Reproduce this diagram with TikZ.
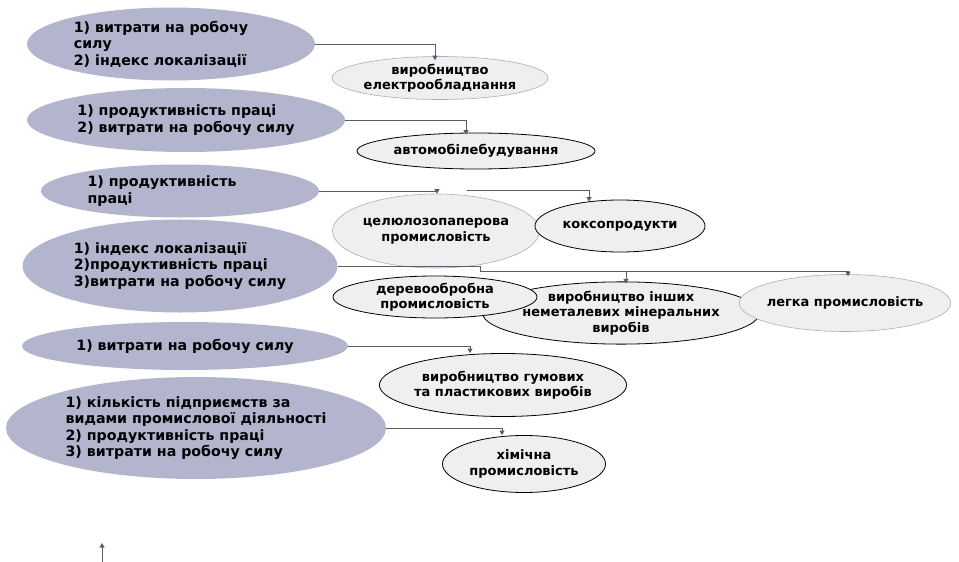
\documentclass[tikz,border=0pt]{standalone}
\usepackage{fontspec}
\setmainfont{DejaVu Sans}
\usetikzlibrary{arrows.meta,shapes.geometric}
\definecolor{factorFill}{RGB}{179,181,206}
\definecolor{galuzFill}{RGB}{239,239,239}
\definecolor{lavLine}{RGB}{170,172,205}
\definecolor{arrLine}{RGB}{90,91,110}

\begin{document}
\begin{tikzpicture}[x=1pt,y=-1pt,
  factor/.style={ellipse,fill=factorFill,inner sep=0pt,align=left,font=\bfseries\fontsize{14.2}{16.5}\selectfont},
  galuz/.style={ellipse,draw=black,line width=0.8pt,fill=galuzFill,inner sep=0pt,align=center,font=\bfseries\fontsize{13}{15.5}\selectfont},
  galuzL/.style={galuz,draw=lavLine,line width=0.6pt},
  arr/.style={draw=arrLine,line width=0.9pt,-{Triangle[length=4.5pt,width=5pt]}}]
\useasboundingbox (0,0) rectangle (959,562);

% factors (left column)
\node[factor,minimum width=288,minimum height=73] (e1) at (171,44) {1) витрати на робочу\hspace*{20pt}\\силу\\2) індекс локалізації};
\node[factor,minimum width=318,minimum height=64] (e2) at (186,120) {1) продуктивність праці\\2) витрати на робочу силу};
\node[factor,minimum width=278,minimum height=53] (e3) at (180,191) {1) продуктивність\hspace*{36pt}\\праці};
\node[factor,minimum width=315,minimum height=93] (e4) at (180,266) {1) індекс локалізації\\2)продуктивність праці\\3)витрати на робочу силу};
\node[factor,minimum width=326,minimum height=48] (e5) at (185,346) {1) витрати на робочу силу};
\node[factor,minimum width=380,minimum height=102] (e6) at (196,428) {1) кількість підприємств за\\видами промислової діяльності\\2) продуктивність праці\\3) витрати на робочу силу};

% industries (right)
\node[galuzL,minimum width=215,minimum height=43] (r1) at (440,78) {виробництво\\електрообладнання};
\node[galuz,minimum width=238,minimum height=36] (r2) at (476,151) {автомобілебудування};
\node[galuzL,minimum width=204,minimum height=74] (r3) at (436,231) {целюлозопаперова\\промисловість};
\node[galuz,minimum width=170,minimum height=52] (r4) at (620,226) {коксопродукти};
\node[galuz,minimum width=277,minimum height=60,inner xsep=-1pt] (r6) at (621,313) {виробництво інших\\неметалевих мінеральних\\виробів};
\node[galuz,minimum width=204,minimum height=42] (r5) at (435,297) {деревообробна\\промисловість};
\node[galuzL,minimum width=210,minimum height=57,inner xsep=-3.5pt] (r7) at (845,303) {легка промисловість};
\node[galuz,minimum width=246,minimum height=63,inner xsep=-1.5pt] (r8) at (503,385) {виробництво гумових\\та пластикових виробів};
\node[galuz,minimum width=163,minimum height=57] (r9) at (524,464) {хімічна\\промисловість};

% connectors
\coordinate (c3) at (467,190);
\coordinate (j4) at (480,271);
\coordinate (b0) at (102,562);
\coordinate (b1) at (102,543);
\draw[arr] (e1.east) -| ([xshift=-5pt,yshift=-4pt]r1.north);
\draw[arr] (e2.east) -| ([xshift=-10pt,yshift=-2pt]r2.north);
\draw[arr] (e3.east) -| ([xshift=1pt]r3.north);
\draw[arr] (c3) -| ([xshift=-31pt,yshift=-2pt]r4.north);
\draw[arrLine,line width=0.9pt] (e4.east) -| (j4);
\draw[arr] (j4) -| ([xshift=5pt,yshift=-2pt]r6.north);
\draw[arr] (j4) -| ([xshift=3pt,yshift=-2pt]r7.north);
\draw[arr] (e5.east) -| ([xshift=-33pt]r8.north);
\draw[arr] (e6.east) -| ([xshift=-22pt]r9.north);
\draw[arr] (b0) -- (b1);
\end{tikzpicture}
\end{document}
